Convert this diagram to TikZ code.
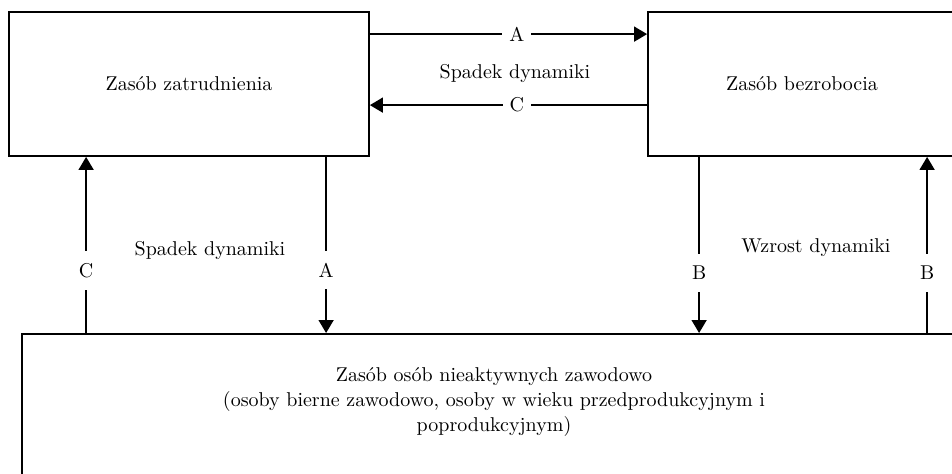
\documentclass[tikz,border=0pt]{standalone}
\usepackage{tikz}
\usetikzlibrary{arrows.meta}

\begin{document}
\begin{tikzpicture}[x=0.5pt, y=-0.5pt,
    every node/.style={font=\fontsize{10}{12.5}\selectfont},
    box/.style={draw, line width=0.9pt, rectangle, inner sep=0pt},
    flow/.style={line width=0.8pt, -{Triangle[length=6.5pt, width=7.5pt]}},
    lbl/.style={fill=white, inner xsep=3.5pt, inner ysep=6pt}]
    \useasboundingbox (0,0) rectangle (952,473);
    \clip (0,0) rectangle (952,473);

    % Stocks
    \node[box, minimum width=180pt, minimum height=72pt] (zatr) at (189,84) {Zasób zatrudnienia};
    \node[box, minimum width=154pt, minimum height=72pt] (bezr) at (802,84) {Zasób bezrobocia};
    \node[box, minimum width=490pt, minimum height=120pt, anchor=north west] (nieakt) at (21,333) {};
    \node[align=center] (nieakttxt) at (494,402) {Zasób osób nieaktywnych zawodowo\\
        (osoby bierne zawodowo, osoby w wieku przedprodukcyjnym i\\poprodukcyjnym)};

    % Flows between employment and unemployment
    \draw[flow] ([yshift=-11.5pt]zatr.north east) -- ([yshift=-11.5pt]bezr.north west) node[lbl, pos=0.53] (a1) {A};
    \draw[flow] ([yshift=-47pt]bezr.north west) -- ([yshift=-47pt]zatr.north east) node[lbl, pos=0.47] (c1) {C};
    \node (spadek1) at (515,73) {Spadek dynamiki};

    % Flows to and from the inactive
    \coordinate (c2s) at ([xshift=39pt]zatr.south west);
    \coordinate (a2s) at ([xshift=159pt]zatr.south west);
    \coordinate (b1s) at ([xshift=26pt]bezr.south west);
    \coordinate (b2s) at ([xshift=140pt]bezr.south west);
    \draw[flow] (c2s |- nieakt.north) -- (c2s) node[lbl, pos=0.356] (c2) {C};
    \draw[flow] (a2s) -- (a2s |- nieakt.north) node[lbl, pos=0.644] (a2) {A};
    \draw[flow] (b1s) -- (b1s |- nieakt.north) node[lbl, pos=0.66] (b1) {B};
    \draw[flow] (b2s |- nieakt.north) -- (b2s) node[lbl, pos=0.34] (b2) {B};
    \node (spadek2) at (210,250) {Spadek dynamiki};
    \node (wzrost) at (816,248) {Wzrost dynamiki};
\end{tikzpicture}
\end{document}
